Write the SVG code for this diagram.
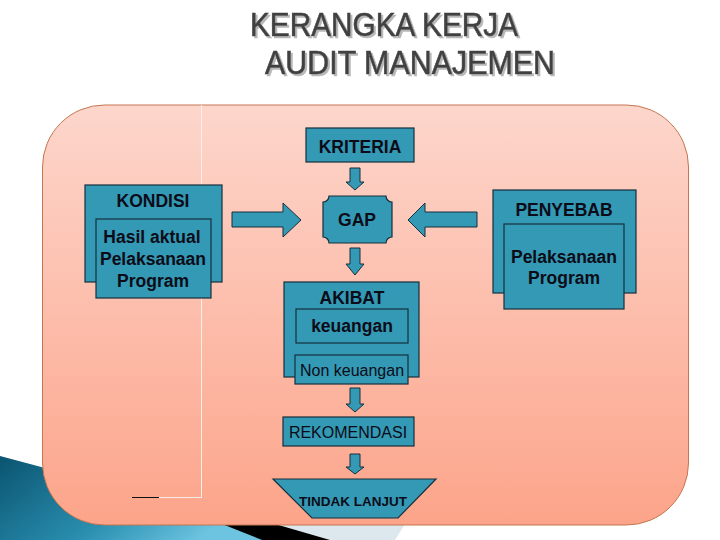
<svg xmlns="http://www.w3.org/2000/svg" width="720" height="540" viewBox="0 0 720 540">
<defs>
<linearGradient id="bg" x1="0" y1="0" x2="0" y2="1">
<stop offset="0" stop-color="#fdd6cc"/>
<stop offset="1" stop-color="#fca48a"/>
</linearGradient>
<linearGradient id="teal" x1="0" y1="0" x2="1" y2="0.4">
<stop offset="0" stop-color="#0a5470"/>
<stop offset="0.6" stop-color="#2a8fb0"/>
<stop offset="1" stop-color="#6cc4e0"/>
</linearGradient>
<linearGradient id="hl" x1="0" y1="0" x2="1" y2="0">
<stop offset="0" stop-color="#8a98a8"/>
<stop offset="1" stop-color="#c0c8d0"/>
</linearGradient>
<filter id="shadow" x="-5%" y="-20%" width="110%" height="140%">
<feDropShadow dx="2" dy="2" stdDeviation="0.6" flood-color="#b8b8b8" flood-opacity="1"/>
</filter>
<style>
.box{fill:#3399b4;stroke:#172f3c;stroke-width:1.2}
.arr{fill:#3399b4;stroke:#172f3c;stroke-width:1}
.b{font-family:"Liberation Sans",Arial,sans-serif;font-weight:bold;font-size:17.5px;fill:#0c0c18;text-anchor:middle}
.r{font-family:"Liberation Sans",Arial,sans-serif;font-size:16px;fill:#0c0c18;text-anchor:middle}
.t{font-family:"Liberation Sans",Arial,sans-serif;font-size:33px;fill:#404040;stroke:#404040;stroke-width:0.6}
</style>
</defs>
<rect width="720" height="540" fill="#ffffff"/>
<g id="decoration">
<polygon points="250,524 405,524 395,540 320,540" fill="#dde8ee"/>
<polygon points="205,524 275,524 330,540 255,540" fill="#000000"/>
<path d="M0,456 L60,472 L222,524 L262,540 L0,540 Z" fill="url(#teal)"/>
</g>
<g id="panel">
<rect x="42.5" y="105" width="646" height="420" rx="62" ry="62" fill="url(#bg)" stroke="#c47650" stroke-width="1"/>
<line x1="201.5" y1="105" x2="201.5" y2="497.5" stroke="#fbeeea" stroke-width="1"/>
<line x1="57" y1="497.5" x2="132" y2="497.5" stroke="url(#hl)" stroke-width="1"/>
<line x1="132" y1="497.5" x2="159" y2="497.5" stroke="#111111" stroke-width="1"/>
<line x1="159" y1="497.5" x2="201.5" y2="497.5" stroke="#f4ece8" stroke-width="1"/>
</g>
<g id="title" filter="url(#shadow)">
<text class="t"><tspan x="250" y="35.5" textLength="268" lengthAdjust="spacingAndGlyphs">KERANGKA KERJA</tspan><tspan x="265" y="73.5" textLength="290" lengthAdjust="spacingAndGlyphs">AUDIT MANAJEMEN</tspan></text>
</g>
<g id="connectors">
<polygon class="arr" points="350,168 360,168 360,182 364,182 355,190 346,182 350,182"/>
<polygon class="arr" points="350,248 360,248 360,264 364,264 355,275 346,264 350,264"/>
<polygon class="arr" points="350,388 360,388 360,404 364,404 355,412 346,404 350,404"/>
<polygon class="arr" points="350,454 360,454 360,467 364,467 355,474 346,467 350,467"/>
<polygon class="arr" points="232,212 283,212 283,203 301,220 283,237 283,227 232,227"/>
<polygon class="arr" points="477,212 425,212 425,203 408,220 425,237 425,227 477,227"/>
</g>
<g id="kriteria">
<rect class="box" x="306" y="128" width="108" height="34"/>
<text class="b" x="360" y="152.5">KRITERIA</text>
</g>
<g id="gap">
<path class="box" d="M329,196 L386,196 A6,6 0 0 0 392,202 L392,237 A6,6 0 0 0 386,243 L329,243 A6,6 0 0 0 323,237 L323,202 A6,6 0 0 0 329,196 Z"/>
<text class="b" x="357" y="226">GAP</text>
</g>
<g id="kondisi">
<rect class="box" x="85" y="185" width="137" height="97"/>
<text class="b" x="153" y="207">KONDISI</text>
<rect class="box" x="96" y="219" width="115" height="79"/>
<text class="b" x="152" y="243">Hasil aktual</text>
<text class="b" x="153" y="265">Pelaksanaan</text>
<text class="b" x="153" y="287">Program</text>
</g>
<g id="penyebab">
<rect class="box" x="493" y="190" width="143" height="103"/>
<text class="b" x="564" y="216">PENYEBAB</text>
<rect class="box" x="504" y="224" width="120" height="85"/>
<text class="b" x="564" y="263">Pelaksanaan</text>
<text class="b" x="564" y="284">Program</text>
</g>
<g id="akibat">
<rect class="box" x="284" y="282" width="135" height="95"/>
<text class="b" x="352" y="304">AKIBAT</text>
<rect class="box" x="296" y="309" width="112" height="34"/>
<text class="b" x="352" y="332">keuangan</text>
<rect class="box" x="295" y="355" width="113" height="29"/>
<text class="r" x="352" y="376">Non keuangan</text>
</g>
<g id="rekomendasi">
<rect class="box" x="283" y="417" width="131" height="29"/>
<text class="r" x="348" y="438">REKOMENDASI</text>
</g>
<g id="tindak-lanjut">
<polygon class="box" points="273,479 436,479 398,518 312,518"/>
<text class="b" x="353" y="505.5" style="font-size:13.5px">TINDAK LANJUT</text>
</g>
</svg>
